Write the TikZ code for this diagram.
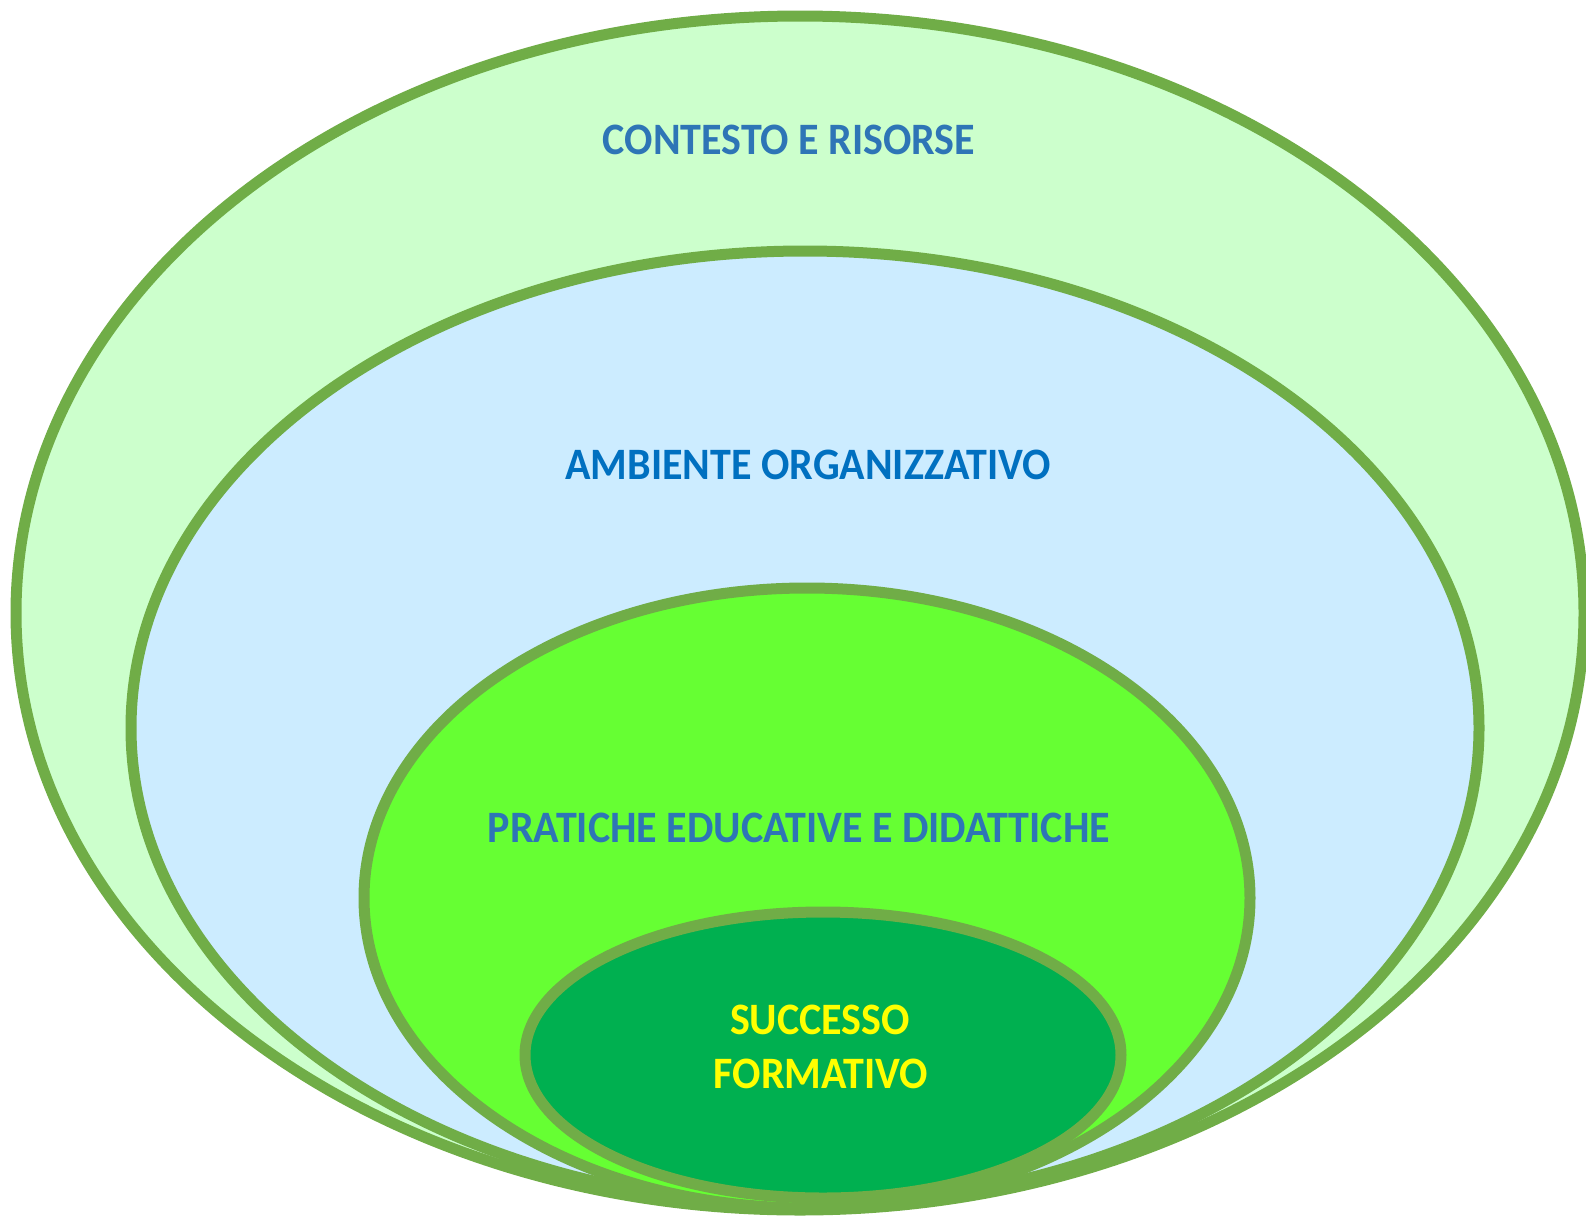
\documentclass[tikz,border=0pt]{standalone}
\usepackage{fontspec}
\setmainfont{Carlito}
\definecolor{rimgreen}{HTML}{70AD47}
\definecolor{contextfill}{HTML}{CCFFCC}
\definecolor{ambientfill}{HTML}{CCECFF}
\definecolor{practfill}{HTML}{66FF33}
\definecolor{successfill}{HTML}{00B050}
\definecolor{labelblue}{HTML}{2E75B6}
\definecolor{labeldeep}{HTML}{0070C0}
\definecolor{labelyellow}{HTML}{FFFF00}
\newcommand{\tallbox}[1]{\scalebox{1}[1.07]{#1}}
\tikzset{
  ring/.style={draw=rimgreen, line width=5.5pt},
  ringlabel/.style={font=\bfseries\fontsize{21}{25}\selectfont, inner sep=0pt}
}
\begin{document}
\begin{tikzpicture}[x=0.5pt,y=-0.5pt]
\useasboundingbox (0,0) rectangle (1586,1216);
% Centres of the rings
\coordinate (context) at (800,613);
\coordinate (ambient) at (805,728);
\coordinate (practice) at (807,898);
\coordinate (success) at (823,1055);
% Draw rings, outermost first
\draw[ring, fill=contextfill] (context) ellipse [x radius=392pt, y radius=298.5pt];
\draw[ring, fill=ambientfill] (ambient) ellipse [x radius=337pt, y radius=238.5pt];
\draw[ring, fill=practfill] (practice) ellipse [x radius=221.5pt, y radius=155pt];
\draw[ring, fill=successfill] (success) ellipse [x radius=149pt, y radius=71.5pt];
% Labels
\node[ringlabel, text=labelblue] (contextlabel) at (789,140) {\tallbox{CONTESTO E RISORSE}};
\node[ringlabel, text=labeldeep] (ambientlabel) at (808,465) {\tallbox{AMBIENTE ORGANIZZATIVO}};
\node[ringlabel, text=labelblue] (practicelabel) at (799,828) {\tallbox{PRATICHE EDUCATIVE E DIDATTICHE}};
\node[ringlabel, text=labelyellow] (successtop) at (820,1020) {\tallbox{SUCCESSO}};
\node[ringlabel, text=labelyellow] (successbottom) at (821,1074) {\tallbox{FORMATIVO}};
\end{tikzpicture}
\end{document}
